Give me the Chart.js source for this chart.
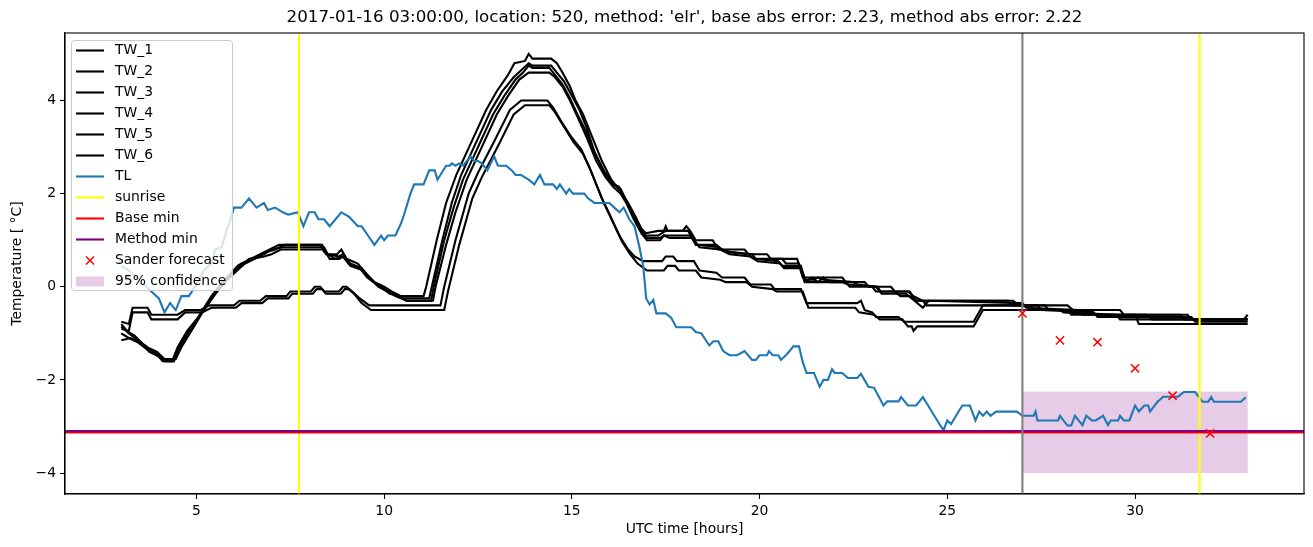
<!DOCTYPE html>
<html>
<head>
<meta charset="utf-8">
<script src="https://cdn.jsdelivr.net/npm/chart.js@4.4.1/dist/chart.umd.min.js"></script>
<style>
  body { margin: 0; background: #fff; }
</style>
</head>
<body>
<canvas id="chart" width="1313" height="547"></canvas>
<script>
"use strict";

/*
    Data: [hour, temperature] pairs
*/

const TW_1 = [[3.0,-0.8],[3.15,-0.95],[3.35,-1.05],[3.6,-1.25],[3.85,-1.4],[4.05,-1.5],[4.15,-1.6],[4.35,-1.6],[4.5,-1.3],[4.75,-0.95],[5.05,-0.65],[5.4,-0.2],[5.7,0.1],[6.1,0.45],[6.2,0.5],[6.45,0.6],[6.7,0.7],[6.95,0.8],[7.2,0.9],[8.35,0.9],[8.45,0.7],[8.75,0.7],[8.86,0.8],[9.0,0.6],[9.3,0.5],[9.5,0.3],[9.75,0.1],[10.0,0.0],[10.2,-0.1],[10.45,-0.2],[11.05,-0.2],[11.12,0.0],[11.4,1.0],[11.65,1.8],[11.92,2.4],[12.32,3.1],[12.72,3.8],[13.0,4.2],[13.3,4.55],[13.47,4.8],[13.75,4.85],[13.85,5.0],[13.95,4.9],[14.45,4.9],[14.6,4.8],[14.75,4.6],[14.95,4.3],[15.1,4.0],[15.3,3.7],[15.55,3.2],[15.8,2.7],[16.05,2.3],[16.15,2.2],[16.3,2.05],[16.5,1.8],[16.7,1.5],[16.85,1.25],[16.97,1.15],[17.3,1.2],[17.45,1.2],[17.5,1.3],[17.55,1.2],[17.95,1.2],[18.05,1.3],[18.15,1.2],[18.3,1.0],[18.75,1.0],[18.9,0.8],[19.6,0.8],[19.7,0.7],[20.2,0.7],[20.3,0.6],[21.0,0.6],[21.15,0.2],[22.2,0.2],[22.3,0.1],[22.8,0.1],[22.9,0.0],[23.5,0.0],[23.6,-0.1],[24.0,-0.1],[24.15,-0.3],[26.6,-0.3],[26.7,-0.4],[27.6,-0.4],[27.7,-0.5],[28.8,-0.5],[28.9,-0.6],[31.4,-0.6],[31.5,-0.7],[32.9,-0.7],[33.0,-0.6]];

const TW_2 = [[3.0,-1.0],[3.2,-1.1],[3.45,-1.2],[3.7,-1.35],[3.95,-1.45],[4.1,-1.6],[4.4,-1.6],[4.55,-1.3],[4.8,-0.95],[5.1,-0.6],[5.45,-0.2],[5.75,0.1],[6.15,0.4],[6.3,0.5],[6.55,0.6],[6.8,0.7],[7.0,0.8],[7.3,0.85],[8.4,0.85],[8.5,0.7],[8.8,0.65],[8.9,0.7],[9.05,0.5],[9.35,0.4],[9.55,0.2],[9.8,0.05],[10.05,-0.05],[10.25,-0.15],[10.5,-0.25],[11.2,-0.25],[11.27,0.0],[11.55,1.0],[11.8,1.8],[12.05,2.4],[12.45,3.1],[12.85,3.8],[13.15,4.2],[13.45,4.5],[13.65,4.65],[13.85,4.8],[13.95,4.75],[14.45,4.75],[14.6,4.6],[14.8,4.4],[15.0,4.1],[15.2,3.8],[15.4,3.4],[15.6,2.9],[15.85,2.5],[16.1,2.2],[16.25,2.15],[16.4,1.9],[16.6,1.6],[16.8,1.3],[16.97,1.1],[17.3,1.1],[17.4,1.15],[17.5,1.2],[18.1,1.2],[18.3,0.9],[18.85,0.9],[19.0,0.8],[19.2,0.75],[19.8,0.7],[19.9,0.6],[20.6,0.6],[20.7,0.5],[21.05,0.5],[21.2,0.1],[21.4,0.2],[21.55,0.1],[21.7,0.2],[21.85,0.1],[22.3,0.1],[22.4,0.0],[23.0,0.0],[23.1,-0.1],[23.6,-0.1],[23.75,-0.2],[24.0,-0.2],[24.2,-0.3],[26.75,-0.3],[26.9,-0.4],[28.2,-0.4],[28.35,-0.5],[29.6,-0.5],[29.7,-0.6],[31.2,-0.6],[31.3,-0.7],[33.0,-0.7]];

const TW_3 = [[3.0,-1.15],[3.25,-1.1],[3.5,-1.2],[3.75,-1.4],[4.0,-1.5],[4.2,-1.6],[4.4,-1.6],[4.6,-1.2],[4.85,-0.9],[5.15,-0.55],[5.5,-0.15],[5.85,0.2],[6.2,0.45],[6.4,0.6],[6.65,0.65],[6.9,0.75],[7.1,0.8],[7.35,0.9],[8.3,0.9],[8.4,0.75],[8.7,0.6],[8.95,0.65],[9.1,0.5],[9.4,0.4],[9.6,0.2],[9.85,0.0],[10.1,-0.1],[10.3,-0.2],[10.6,-0.3],[11.25,-0.3],[11.32,0.0],[11.6,1.0],[11.85,1.7],[12.1,2.3],[12.5,3.0],[12.9,3.7],[13.2,4.1],[13.5,4.45],[13.7,4.6],[13.85,4.75],[13.95,4.7],[14.4,4.7],[14.55,4.55],[14.75,4.35],[14.95,4.05],[15.15,3.7],[15.4,3.3],[15.65,2.8],[15.9,2.4],[16.1,2.2],[16.3,2.1],[16.45,1.85],[16.65,1.5],[16.85,1.2],[17.0,1.05],[17.35,1.05],[17.45,1.1],[18.15,1.1],[18.35,0.9],[18.9,0.85],[19.1,0.75],[19.7,0.7],[19.85,0.6],[20.5,0.55],[20.6,0.45],[21.1,0.45],[21.2,0.15],[21.45,0.15],[21.55,0.2],[21.7,0.15],[22.5,0.1],[22.6,0.05],[23.15,0.0],[23.25,-0.15],[23.9,-0.15],[24.05,-0.25],[24.35,-0.45],[24.5,-0.3],[27.0,-0.35],[27.1,-0.45],[28.5,-0.5],[28.6,-0.6],[30.3,-0.6],[30.45,-0.7],[33.0,-0.7]];

const TW_4 = [[3.0,-0.85],[3.2,-1.0],[3.45,-1.15],[3.7,-1.3],[3.95,-1.4],[4.15,-1.55],[4.45,-1.55],[4.6,-1.3],[4.9,-0.9],[5.2,-0.5],[5.55,-0.1],[5.9,0.25],[6.25,0.5],[6.5,0.6],[6.8,0.65],[7.0,0.7],[7.25,0.8],[8.4,0.8],[8.55,0.6],[8.8,0.6],[8.9,0.65],[9.1,0.45],[9.45,0.35],[9.65,0.15],[9.9,0.0],[10.15,-0.15],[10.4,-0.2],[10.6,-0.3],[11.3,-0.3],[11.37,0.0],[11.65,0.9],[11.9,1.6],[12.2,2.3],[12.6,3.0],[13.0,3.7],[13.3,4.1],[13.6,4.45],[13.85,4.6],[14.4,4.6],[14.55,4.5],[14.75,4.3],[14.95,4.0],[15.15,3.65],[15.4,3.2],[15.65,2.7],[15.9,2.35],[16.1,2.15],[16.3,2.0],[16.45,1.8],[16.65,1.45],[16.85,1.15],[17.0,1.0],[17.35,1.0],[17.45,1.1],[17.6,1.05],[18.2,1.05],[18.4,0.85],[18.95,0.8],[19.2,0.7],[19.75,0.65],[19.95,0.55],[20.55,0.5],[20.65,0.4],[21.1,0.4],[21.25,0.1],[22.2,0.1],[22.35,0.05],[23.1,0.0],[23.2,-0.1],[23.95,-0.1],[24.1,-0.2],[24.35,-0.3],[24.45,-0.4],[27.4,-0.4],[27.5,-0.5],[28.9,-0.55],[29.0,-0.65],[31.5,-0.65],[31.6,-0.75],[33.0,-0.75]];

const TW_5 = [[3.0,-0.75],[3.2,-0.8],[3.3,-0.45],[3.7,-0.45],[3.8,-0.6],[4.5,-0.6],[4.7,-0.5],[5.1,-0.5],[5.35,-0.4],[6.0,-0.4],[6.15,-0.3],[6.7,-0.3],[6.85,-0.2],[7.4,-0.2],[7.5,-0.1],[8.05,-0.1],[8.15,0.0],[8.3,0.0],[8.4,-0.1],[8.8,-0.1],[8.9,0.0],[9.0,0.0],[9.15,-0.1],[9.35,-0.25],[9.6,-0.4],[11.5,-0.4],[11.6,0.0],[11.9,1.0],[12.25,2.0],[12.5,2.45],[12.95,3.15],[13.35,3.8],[13.65,4.0],[14.35,4.0],[14.5,3.85],[14.72,3.55],[15.0,3.2],[15.25,2.95],[15.45,2.6],[15.6,2.3],[15.8,1.9],[15.95,1.65],[16.15,1.3],[16.3,1.05],[16.5,0.8],[16.67,0.65],[16.9,0.55],[17.4,0.55],[17.5,0.65],[17.7,0.65],[17.8,0.55],[18.25,0.55],[18.4,0.35],[18.85,0.3],[19.0,0.2],[19.6,0.2],[19.75,0.05],[20.3,0.05],[20.4,-0.05],[21.1,-0.05],[21.25,-0.35],[22.6,-0.35],[22.7,-0.3],[22.8,-0.5],[23.0,-0.55],[23.1,-0.65],[23.7,-0.65],[23.85,-0.75],[25.7,-0.75],[25.95,-0.4],[27.2,-0.4],[27.3,-0.5],[28.0,-0.5],[28.1,-0.55],[29.5,-0.6],[29.6,-0.7],[33.0,-0.7]];

const TW_6 = [[3.0,-0.9],[3.2,-0.95],[3.3,-0.55],[3.7,-0.55],[3.8,-0.7],[4.5,-0.7],[4.7,-0.55],[5.15,-0.55],[5.4,-0.45],[6.05,-0.45],[6.2,-0.35],[6.75,-0.35],[6.9,-0.25],[7.45,-0.25],[7.55,-0.15],[8.1,-0.15],[8.2,-0.05],[8.35,-0.05],[8.45,-0.15],[8.85,-0.15],[8.95,-0.05],[9.05,-0.05],[9.2,-0.15],[9.4,-0.35],[9.65,-0.5],[11.6,-0.5],[11.7,-0.1],[12.0,0.9],[12.35,1.9],[12.6,2.35],[13.05,3.05],[13.45,3.7],[13.75,3.9],[14.4,3.9],[14.55,3.75],[14.78,3.45],[15.05,3.1],[15.3,2.85],[15.5,2.5],[15.65,2.2],[15.85,1.8],[16.0,1.55],[16.2,1.2],[16.35,0.95],[16.55,0.7],[16.75,0.5],[17.0,0.35],[17.45,0.35],[17.55,0.45],[17.75,0.45],[17.85,0.35],[18.3,0.35],[18.45,0.2],[18.95,0.15],[19.1,0.1],[19.65,0.1],[19.8,0.0],[20.35,-0.05],[20.45,-0.1],[21.15,-0.1],[21.3,-0.45],[22.55,-0.45],[22.65,-0.55],[23.05,-0.6],[23.2,-0.7],[23.8,-0.7],[23.95,-0.85],[24.05,-0.85],[24.1,-0.95],[24.2,-0.85],[25.7,-0.85],[25.95,-0.5],[28.2,-0.5],[28.3,-0.6],[30.0,-0.6],[30.1,-0.8],[33.0,-0.8]];

const TL = [[3.0,0.45],[3.2,0.35],[3.4,0.2],[3.6,0.05],[3.8,-0.1],[4.0,-0.25],[4.15,-0.55],[4.3,-0.35],[4.45,-0.5],[4.6,-0.2],[4.8,-0.2],[5.0,0.05],[5.2,0.35],[5.4,0.5],[5.5,0.8],[5.67,0.85],[5.8,1.2],[5.93,1.5],[6.0,1.7],[6.2,1.7],[6.4,1.9],[6.6,1.7],[6.8,1.8],[6.9,1.65],[7.1,1.7],[7.3,1.6],[7.45,1.55],[7.7,1.6],[7.85,1.3],[8.0,1.6],[8.15,1.6],[8.25,1.45],[8.4,1.45],[8.55,1.3],[8.86,1.6],[9.07,1.5],[9.3,1.3],[9.4,1.3],[9.74,0.9],[9.92,1.1],[10.0,1.0],[10.1,1.1],[10.3,1.1],[10.46,1.38],[10.55,1.6],[10.7,2.0],[10.8,2.2],[11.05,2.2],[11.2,2.5],[11.35,2.5],[11.42,2.3],[11.65,2.6],[11.75,2.6],[11.8,2.65],[11.9,2.6],[12.0,2.65],[12.1,2.6],[12.2,2.7],[12.3,2.8],[12.4,2.7],[12.5,2.7],[12.6,2.65],[12.75,2.5],[12.93,2.8],[13.03,2.6],[13.25,2.6],[13.4,2.5],[13.5,2.4],[13.65,2.4],[13.85,2.3],[14.0,2.2],[14.15,2.4],[14.27,2.2],[14.5,2.2],[14.6,2.1],[14.68,2.2],[14.85,2.0],[14.93,2.1],[15.03,2.0],[15.33,2.0],[15.43,1.9],[15.6,1.8],[16.0,1.8],[16.13,1.7],[16.27,1.6],[16.38,1.7],[16.53,1.45],[16.67,1.3],[16.8,0.85],[16.9,0.45],[16.98,-0.25],[17.07,-0.38],[17.17,-0.28],[17.25,-0.57],[17.5,-0.57],[17.65,-0.67],[17.78,-0.87],[18.18,-0.87],[18.3,-0.97],[18.45,-1.0],[18.66,-1.26],[18.77,-1.17],[18.9,-1.17],[19.03,-1.38],[19.2,-1.47],[19.4,-1.47],[19.6,-1.38],[19.8,-1.57],[19.9,-1.57],[20.0,-1.47],[20.2,-1.47],[20.25,-1.38],[20.35,-1.47],[20.5,-1.47],[20.57,-1.57],[20.7,-1.47],[20.8,-1.38],[20.9,-1.28],[21.05,-1.28],[21.15,-1.62],[21.25,-1.85],[21.45,-1.85],[21.6,-2.15],[21.7,-2.0],[21.82,-2.0],[21.93,-1.77],[22.0,-1.85],[22.2,-1.85],[22.35,-1.96],[22.6,-1.96],[22.7,-1.87],[22.9,-2.15],[23.05,-2.17],[23.3,-2.55],[23.4,-2.46],[23.7,-2.46],[23.77,-2.37],[23.95,-2.55],[24.17,-2.55],[24.35,-2.37],[24.45,-2.5],[24.83,-3.0],[24.9,-3.08],[25.0,-2.87],[25.1,-2.95],[25.3,-2.68],[25.4,-2.55],[25.6,-2.55],[25.75,-2.87],[25.85,-2.68],[25.95,-2.77],[26.05,-2.68],[26.15,-2.77],[26.3,-2.68],[26.85,-2.68],[27.0,-2.77],[27.3,-2.77],[27.35,-2.68],[27.4,-2.87],[27.95,-2.87],[28.0,-2.77],[28.2,-2.98],[28.3,-2.98],[28.4,-2.77],[28.6,-2.97],[28.7,-2.77],[28.85,-2.87],[28.95,-2.87],[29.15,-2.77],[29.28,-2.97],[29.35,-2.87],[29.55,-2.87],[29.6,-2.77],[29.7,-2.87],[29.85,-2.87],[30.0,-2.55],[30.1,-2.68],[30.25,-2.55],[30.35,-2.55],[30.4,-2.68],[30.6,-2.47],[30.75,-2.36],[31.15,-2.36],[31.3,-2.26],[31.6,-2.26],[31.8,-2.47],[31.95,-2.47],[32.03,-2.37],[32.1,-2.47],[32.82,-2.47],[32.95,-2.37]];

const sander_hours = [27, 28, 29, 30, 31, 32];
const sander_temps = [-0.57, -1.15, -1.19, -1.75, -2.34, -3.15];

const sunrise_hours = [7.73, 31.72];
const forecast_hour = 27.0;
const base_min = -3.13;
const method_min = -3.10;

const conf_hours = [27, 33];
const conf_low = -4.0;
const conf_high = -2.25;

const x_ticks = [5, 10, 15, 20, 25, 30];
const y_ticks = [-4, -2, 0, 2, 4];
const X_MIN = 1.5, X_MAX = 34.5;
const Y_MIN = -4.45, Y_MAX = 5.45;

const title_text = "2017-01-16 03:00:00, location: 520, method: 'elr', base abs error: 2.23, method abs error: 2.22";

/*
    Helpers
*/

const FONT = "'DejaVu Sans', sans-serif";

function pairs_to_points(pairs) {
    return pairs.map(p => ({x: p[0], y: p[1]}));
}

function vertical_points(hours) {
    let pts = [];
    hours.forEach((h, i) => {
        if (i > 0) pts.push({x: h, y: null});
        pts.push({x: h, y: Y_MIN});
        pts.push({x: h, y: Y_MAX});
    });
    return pts;
}

function line_set(label, data, colour, width, order) {
    return {
        label: label,
        data: data,
        showLine: true,
        borderColor: colour,
        backgroundColor: colour,
        borderWidth: width,
        pointRadius: 0,
        fill: false,
        tension: 0,
        order: order
    };
}

const legend_items = [
    {label: "TW_1", kind: "line", colour: "#000000"},
    {label: "TW_2", kind: "line", colour: "#000000"},
    {label: "TW_3", kind: "line", colour: "#000000"},
    {label: "TW_4", kind: "line", colour: "#000000"},
    {label: "TW_5", kind: "line", colour: "#000000"},
    {label: "TW_6", kind: "line", colour: "#000000"},
    {label: "TL", kind: "line", colour: "#1f77b4"},
    {label: "sunrise", kind: "line", colour: "#ffff00"},
    {label: "Base min", kind: "line", colour: "#ff0000"},
    {label: "Method min", kind: "line", colour: "#800080"},
    {label: "Sander forecast", kind: "cross", colour: "#ff0000"},
    {label: "95% confidence", kind: "patch", colour: "rgba(128,0,128,0.2)"}
];

/*
    Plugins: confidence box, frame, texts, legend
*/

const confidence_plugin = {
    id: "confidence",
    beforeDatasetsDraw(chart) {
        const ctx = chart.ctx, xs = chart.scales.x, ys = chart.scales.y;
        const x0 = xs.getPixelForValue(conf_hours[0]);
        const x1 = xs.getPixelForValue(conf_hours[1]);
        const y0 = ys.getPixelForValue(conf_high);
        const y1 = ys.getPixelForValue(conf_low);
        ctx.save();
        ctx.fillStyle = "rgba(128,0,128,0.2)";
        ctx.fillRect(x0, y0, x1 - x0, y1 - y0);
        ctx.restore();
    }
};

const decor_plugin = {
    id: "decor",
    afterDraw(chart) {
        const ctx = chart.ctx, a = chart.chartArea;
        ctx.save();
        // frame
        ctx.strokeStyle = "#000";
        ctx.lineWidth = 1.1;
        ctx.strokeRect(a.left, a.top, a.right - a.left, a.bottom - a.top);

        // title + axis labels
        ctx.fillStyle = "#000";
        ctx.textAlign = "center";
        ctx.textBaseline = "middle";
        const cx = (a.left + a.right) / 2;
        ctx.font = "16.7px " + FONT;
        ctx.fillText(title_text, cx, 18);
        ctx.font = "13.9px " + FONT;
        ctx.fillText("UTC time [hours]", cx, 529);
        ctx.save();
        ctx.translate(17, (a.top + a.bottom) / 2);
        ctx.rotate(-Math.PI / 2);
        ctx.fillText("Temperature [ \u00B0C]", 0, 0);
        ctx.restore();

        // legend
        const lx = 71, ly = 40, lw = 161, lh = 250;
        ctx.beginPath();
        ctx.roundRect(lx + 0.5, ly + 0.5, lw, lh, 3);
        ctx.fillStyle = "rgba(255,255,255,0.8)";
        ctx.fill();
        ctx.strokeStyle = "#cccccc";
        ctx.lineWidth = 1;
        ctx.stroke();

        ctx.textAlign = "left";
        ctx.font = "13.9px " + FONT;
        legend_items.forEach((it, i) => {
            const y = 50.5 + i * 21;
            if (it.kind === "line") {
                ctx.strokeStyle = it.colour;
                ctx.lineWidth = 2.1;
                ctx.beginPath();
                ctx.moveTo(76, y);
                ctx.lineTo(104, y);
                ctx.stroke();
            } else if (it.kind === "cross") {
                ctx.strokeStyle = it.colour;
                ctx.lineWidth = 1.5;
                ctx.beginPath();
                ctx.moveTo(86, y - 4);
                ctx.lineTo(94, y + 4);
                ctx.moveTo(86, y + 4);
                ctx.lineTo(94, y - 4);
                ctx.stroke();
            } else {
                ctx.fillStyle = it.colour;
                ctx.fillRect(76, y - 5, 28, 10);
            }
            ctx.fillStyle = "#000";
            ctx.fillText(it.label, 115, y);
        });
        ctx.restore();
    }
};

/*
    Chart
*/

function create_chart(canvas_id) {
    const tw_sets = [TW_1, TW_2, TW_3, TW_4, TW_5, TW_6].map((tw, i) =>
        line_set("TW_" + (i + 1), pairs_to_points(tw), "#000000", 2.1, 20 + i));

    const datasets = [
        {
            label: "Sander forecast",
            data: sander_hours.map((h, i) => ({x: h, y: sander_temps[i]})),
            showLine: false,
            pointStyle: "crossRot",
            pointRadius: 5.8,
            pointBorderWidth: 1.5,
            borderColor: "#ff0000",
            backgroundColor: "#ff0000",
            order: 0
        },
        line_set("forecast start", vertical_points([forecast_hour]), "#808080", 2.1, 1),
        line_set("Method min", [{x: X_MIN, y: method_min}, {x: X_MAX, y: method_min}], "#800080", 2.1, 2),
        line_set("Base min", [{x: X_MIN, y: base_min}, {x: X_MAX, y: base_min}], "#ff0000", 2.1, 3),
        line_set("sunrise", vertical_points(sunrise_hours), "#ffff00", 2.1, 4),
        line_set("TL", pairs_to_points(TL), "#1f77b4", 2.1, 10)
    ].concat(tw_sets);

    const axis_common = {
        type: "linear",
        grid: {
            display: true,
            drawOnChartArea: false,
            drawTicks: true,
            tickLength: 5,
            tickWidth: 1.1,
            tickColor: "#000"
        },
        border: {display: true, color: "#000", width: 1.1}
    };

    const ctx = document.getElementById(canvas_id).getContext("2d");
    window.main_chart = new Chart(ctx, {
        type: "scatter",
        data: {datasets: datasets},
        plugins: [confidence_plugin, decor_plugin],
        options: {
            responsive: false,
            animation: false,
            events: [],
            layout: {padding: {left: 0, right: 9, top: 33, bottom: 0}},
            plugins: {
                legend: {display: false},
                title: {display: false},
                tooltip: {enabled: false}
            },
            scales: {
                x: Object.assign({}, axis_common, {
                    min: X_MIN,
                    max: X_MAX,
                    afterBuildTicks: s => { s.ticks = x_ticks.map(v => ({value: v})); },
                    afterFit: s => { s.height = 53; },
                    ticks: {color: "#000", font: {family: FONT, size: 13.9}, padding: 4, maxRotation: 0, autoSkip: false}
                }),
                y: Object.assign({}, axis_common, {
                    min: Y_MIN,
                    max: Y_MAX,
                    afterBuildTicks: s => { s.ticks = y_ticks.map(v => ({value: v})); },
                    afterFit: s => { s.width = 65; },
                    ticks: {color: "#000", font: {family: FONT, size: 13.9}, padding: 4,
                            callback: v => (v < 0 ? "\u2212" + Math.abs(v) : "" + v)}
                })
            }
        }
    });
}

create_chart("chart");
</script>
</body>
</html>
